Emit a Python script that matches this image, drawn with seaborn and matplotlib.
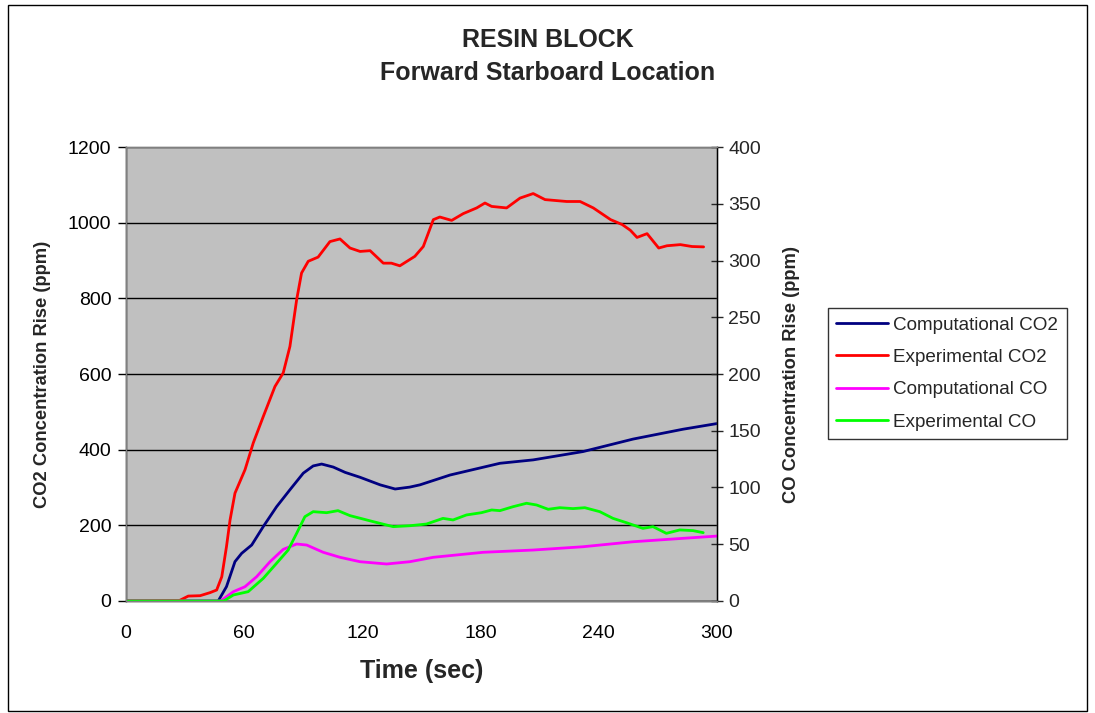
import numpy as np
import pandas as pd
import matplotlib
matplotlib.use("Agg")
import matplotlib.pyplot as plt
import seaborn as sns

# data
t_exp_co2 = [0, 27, 31.6, 37.6, 42.6, 46, 48.6, 51, 52.8, 55.3, 60.4, 64.6, 69.7, 75.6, 79.8, 83.2,
             86.6, 89.1, 92.5, 97.5, 103.5, 108.6, 113.7, 118.8, 123.9, 130.6, 134.7, 139, 146.6,
             150.9, 156, 159.3, 165.3, 171.2, 178, 182.2, 185.6, 193.2, 200, 206.7, 212.7, 223.7,
             230.5, 237.2, 246, 251.9, 256, 259.4, 264.5, 270.4, 274.6, 281.4, 287.3, 293.2]
exp_co2 = [0, 1, 13, 14, 22, 29, 64, 144, 214, 285, 347, 418, 488, 567, 603, 673,
           796, 867, 898, 909, 950, 957, 933, 924, 926, 893, 893, 886, 911,
           937, 1008, 1015, 1006, 1024, 1039, 1052, 1043, 1039, 1065, 1077, 1061, 1056,
           1056, 1039, 1008, 995, 980, 961, 971, 933, 939, 942, 937, 936]

t_comp_co2 = [0, 46.8, 51, 55.3, 58.7, 63.8, 69.7, 76.4, 83.2, 90, 95, 99.3, 105.2, 111.2, 118.8,
              129, 136.6, 144, 149.2, 164.5, 189.8, 206.7, 232, 257.4, 282.7, 300]
comp_co2 = [0, 0, 38, 104, 126, 148, 197, 249, 294, 338, 357, 362, 354, 340, 327,
            307, 296, 301, 307, 333, 364, 373, 395, 428, 454, 469]

t_comp_co = [0, 48, 54.5, 60.4, 66.3, 73.1, 79.8, 86.6, 91.7, 100.1, 108.6, 118.8, 132.3, 144,
             156, 181.3, 206.7, 232, 257.4, 282.7, 300]
comp_co = [0, 0, 8.2, 12.6, 21.4, 34.6, 45.5, 50.2, 49.3, 42.9, 38.5, 34.6, 32.6, 34.6,
           38.5, 42.9, 44.9, 47.8, 52.2, 55.2, 57.2]

t_exp_co = [0, 49.6, 54.5, 62, 69.7, 76.4, 82.3, 86.6, 90.8, 95, 101.8, 107.6, 113.7, 125.5,
            135.6, 144, 152.5, 160.9, 166, 172.8, 180.4, 185.6, 189.8, 196.5, 203.3, 208.4,
            214.3, 220.2, 226.9, 232.9, 240.5, 247.2, 254, 262.4, 267.5, 274.3, 281.1, 287.8, 293]
exp_co = [0, 0, 5.3, 8.2, 20, 33.2, 44.9, 59.6, 74.3, 78.7, 77.8, 79.6, 75.2, 69.9,
          65.5, 66.3, 67.8, 72.8, 71.4, 75.8, 77.8, 80.2, 79.6, 83.1, 86.1, 84.6,
          80.8, 82.2, 81.4, 82.2, 78.7, 72.8, 69, 64, 65.5, 59.6, 62.6, 62, 60.2]

sns.set_style("white")
plt.rcParams['font.family'] = ['Liberation Sans', 'DejaVu Sans']

fig = plt.figure(figsize=(10.95, 7.13), dpi=100)
ax = fig.add_axes([0.1151, 0.1571, 0.5397, 0.6367])
ax.set_facecolor('#C0C0C0')
ax2 = ax.twinx()

sns.lineplot(x=t_comp_co2, y=comp_co2, ax=ax, color='#000080', lw=2, label='Computational CO2', legend=False)
sns.lineplot(x=t_exp_co2, y=exp_co2, ax=ax, color='#FF0000', lw=2, label='Experimental CO2', legend=False)
sns.lineplot(x=t_comp_co, y=comp_co, ax=ax2, color='#FF00FF', lw=2, label='Computational CO', legend=False)
sns.lineplot(x=t_exp_co, y=exp_co, ax=ax2, color='#00FF00', lw=2, label='Experimental CO', legend=False)

ax.set_xlim(0, 300)
ax.set_ylim(0, 1200)
ax2.set_ylim(0, 400)
ax.set_xticks(range(0, 301, 60))
ax.set_yticks(range(0, 1201, 200))
ax2.set_yticks(range(0, 401, 50))
ax.yaxis.grid(True, color='black', lw=1)
ax.set_axisbelow(True)

for a in (ax, ax2):
    for s in a.spines.values():
        s.set_color('#808080')
        s.set_linewidth(1)
ax2.spines['right'].set_color('black')
ax.spines['left'].set_color('black')
ax.spines['bottom'].set_color('black')

ax.tick_params(axis='both', direction='out', length=6, width=1, labelsize=14, colors='black', pad=4.5)
ax.tick_params(axis='x', pad=11)
ax2.tick_params(axis='y', direction='inout', length=8, width=1, labelsize=14, pad=4)

ax.set_xlabel('Time (sec)', fontsize=18, fontweight='bold')
ax.set_ylabel('CO2 Concentration Rise (ppm)', fontsize=13.2, fontweight='bold')
ax2.set_ylabel('CO Concentration Rise (ppm)', fontsize=13.2, fontweight='bold')
ax.xaxis.set_label_coords(0.5, -0.128)
ax.yaxis.set_label_coords(-0.127, 0.5)
ax2.yaxis.set_label_coords(1.112, 0.5)

fig.text(0.5, 1 - 40 / 713, 'RESIN BLOCK', ha='center', va='center', fontsize=18, fontweight='bold')
fig.text(0.5, 1 - 73 / 713, 'Forward Starboard Location', ha='center', va='center',
         fontsize=18, fontweight='bold')

h1, lab1 = ax.get_legend_handles_labels()
h2, lab2 = ax2.get_legend_handles_labels()
leg = fig.legend(h1 + h2, lab1 + lab2, loc='upper left', bbox_to_anchor=(0.756, 0.568),
                 fontsize=13.6, frameon=True, fancybox=False, edgecolor='black',
                 handlelength=2.75, handletextpad=0.26, labelspacing=0.8, borderpad=0.45,
                 borderaxespad=0)
leg.get_frame().set_linewidth(1)

fig.patches.append(plt.Rectangle((0.007, 0.003), 0.986, 0.99, transform=fig.transFigure,
                                 fill=False, edgecolor='black', lw=1))

fig.savefig('out.png', dpi=100)
